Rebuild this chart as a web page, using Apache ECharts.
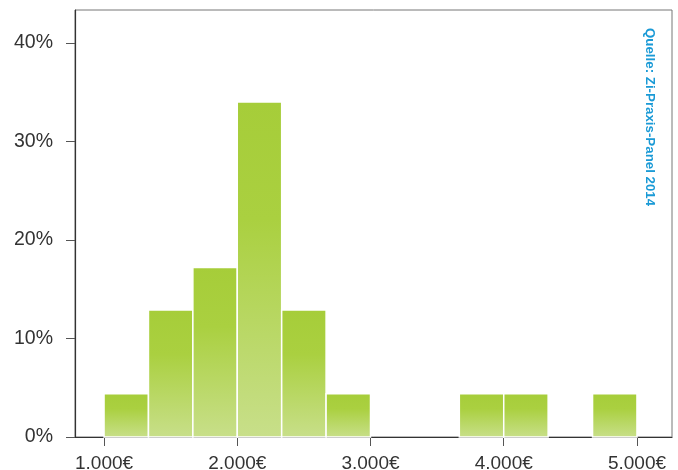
<!DOCTYPE html>
<html>
<head>
<meta charset="utf-8">
<script src="https://cdn.jsdelivr.net/npm/echarts@6/dist/echarts.min.js"></script>
<style>html,body{margin:0;padding:0;background:#fff;}#c{width:678px;height:470px;}</style>
</head>
<body>
<div id="c"></div>
<script>
// Histogram bins (Euro), bin width = 1000/3
var binStart = [1000, 1333.33, 1666.67, 2000, 2333.33, 2666.67, 3666.67, 4000, 4666.67];
var binEnd   = [1333.33, 1666.67, 2000, 2333.33, 2666.67, 3000, 4000, 4333.33, 5000];
var share    = [4.4, 12.9, 17.2, 34.0, 12.9, 4.4, 4.4, 4.4, 4.4];
var xTicks = [1000, 2000, 3000, 4000, 5000];
var yTicks = [0, 10, 20, 30, 40];
var sourceText = 'Quelle: Zi-Praxis-Panel 2014';

var data = binStart.map(function (s, i) { return [s, binEnd[i], share[i]]; });

var chart = echarts.init(document.getElementById('c'));
var font = 'Liberation Sans, Arial, sans-serif';
chart.setOption({
  animation: false,
  grid: { left: 75, top: 10, right: 6, bottom: 33, show: true, borderColor: '#777', borderWidth: 1,
          containLabel: false, outerBoundsMode: 'none' },
  xAxis: {
    type: 'value', min: 782, max: 5263,
    splitLine: { show: false },
    axisLine: { show: true, lineStyle: { color: '#333', width: 1.2 } },
    axisTick: { show: true, length: 9, lineStyle: { color: '#555' }, customValues: xTicks },
    axisLabel: {
      customValues: xTicks, margin: 17, color: '#333', fontSize: 19, fontFamily: font,
      formatter: function (v) { return (v / 1000).toFixed(3) + '€'; }
    }
  },
  yAxis: {
    type: 'value', min: 0, max: 43.35,
    splitLine: { show: false },
    axisLine: { show: true, lineStyle: { color: '#333', width: 1.2 } },
    axisTick: { show: true, length: 9, lineStyle: { color: '#555' }, customValues: yTicks },
    axisLabel: {
      customValues: yTicks, margin: 22, color: '#333', fontSize: 19.5, fontFamily: font,
      formatter: function (v) { return v + '%'; }
    }
  },
  series: [{
    type: 'custom',
    data: data,
    encode: { x: [0, 1], y: 2 },
    renderItem: function (params, api) {
      var p0 = api.coord([api.value(0), api.value(2)]);
      var p1 = api.coord([api.value(1), 0]);
      return {
        type: 'rect',
        shape: { x: p0[0], y: p0[1], width: p1[0] - p0[0], height: p1[1] - p0[1] },
        style: {
          fill: new echarts.graphic.LinearGradient(0, 0, 0, 1, [
            { offset: 0, color: '#a6cd39' },
            { offset: 0.35, color: '#aad040' },
            { offset: 1, color: '#c8df8a' }
          ]),
          stroke: '#ffffff', lineWidth: 1.5
        }
      };
    }
  }],
  graphic: [{
    type: 'text', x: 650, y: 28, rotation: -Math.PI / 2,
    style: {
      text: sourceText, fill: '#1a9ad6', font: 'bold 13.3px ' + font,
      textAlign: 'left', textVerticalAlign: 'middle'
    }
  }]
});
</script>
</body>
</html>
